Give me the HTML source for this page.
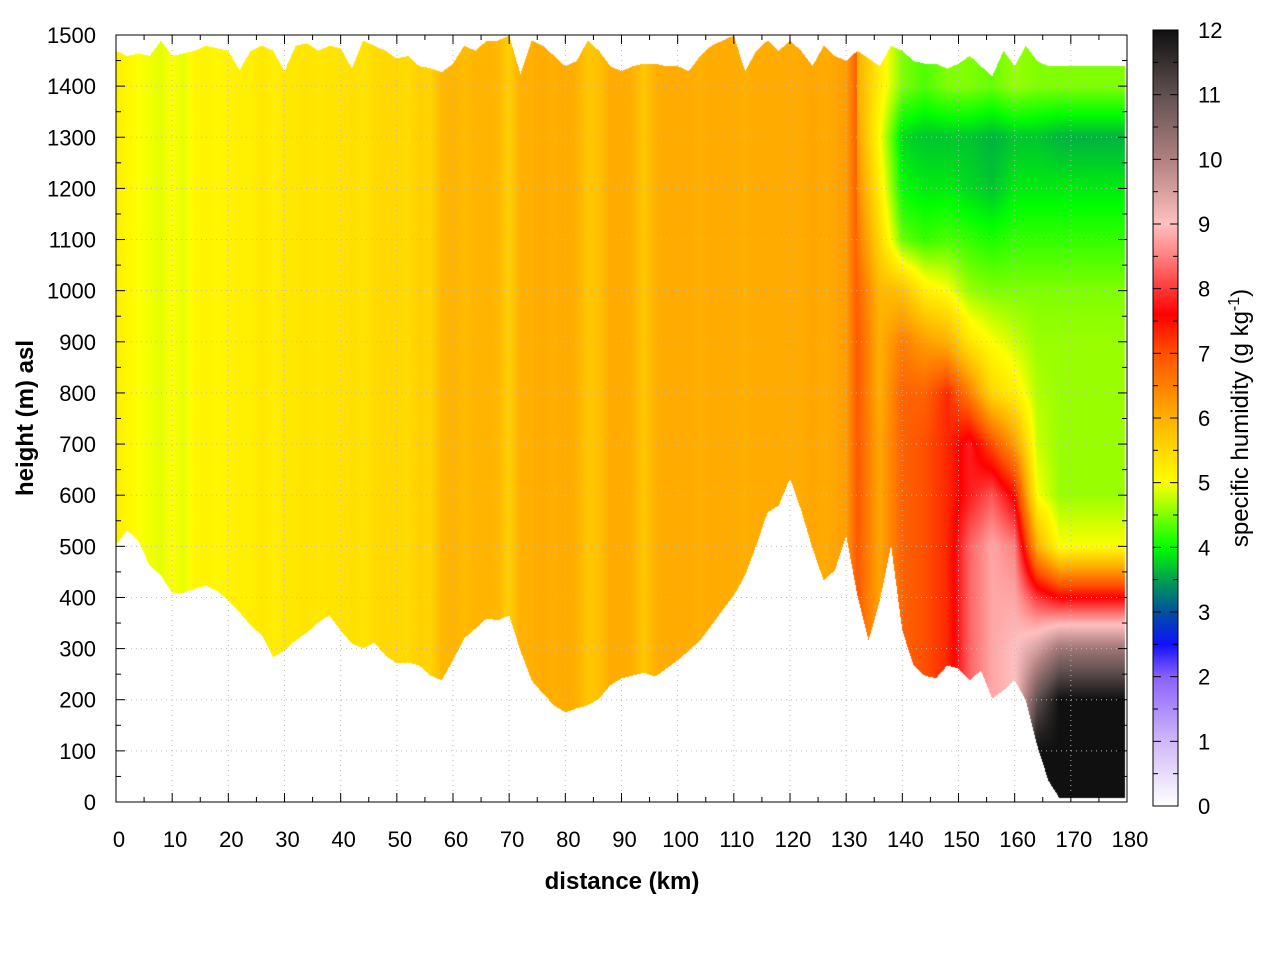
<!DOCTYPE html>
<html><head><meta charset="utf-8">
<style>
html,body{margin:0;padding:0;background:#fff;width:1280px;height:960px;overflow:hidden}
#wrap{position:relative;width:1280px;height:960px}
canvas{position:absolute;left:0;top:0}
svg{position:absolute;left:0;top:0}
text{font-family:"Liberation Sans",sans-serif;fill:#000}
</style></head><body>
<div id="wrap">
<canvas id="cv" width="1280" height="960"></canvas>
<svg id="sv" width="1280" height="960"></svg>
</div>
<script>
// ---- data ----
const colDist = [0,2,4,6,8,10,12,14,16,18,20,22,24,26,28,30,32,34,36,38,40,42,44,46,48,50,52,54,56,58,60,62,64,66,68,70,72,74,76,78,80,82,84,86,88,90,92,94,96,98,100,102,104,106,108,110,112,114,116,118,120,122,124,126,128,130,132,134,136,138,140,142,144,146,148,150,152,154,156,158,160,162,164,166,168,170,172,174,176,178,180];
const terrain = [503,532,512,463,444,410,410,418,424,414,395,372,346,327,284,297,317,332,352,366,336,311,301,313,287,272,274,268,248,239,278,321,340,360,356,366,297,239,213,190,176,184,190,203,229,243,248,254,246,262,278,297,317,346,376,405,444,503,567,581,634,571,497,434,454,522,405,317,395,503,336,268,248,243,268,262,239,258,203,219,239,200,112,43,8,8,8,8,8,8,8];
const topH = [1470,1460,1465,1460,1490,1460,1465,1470,1480,1475,1470,1432,1470,1480,1470,1430,1480,1485,1470,1480,1475,1435,1490,1480,1470,1455,1460,1440,1436,1428,1445,1480,1470,1490,1490,1500,1425,1490,1480,1460,1440,1450,1490,1470,1440,1430,1440,1445,1445,1440,1440,1430,1460,1480,1490,1500,1430,1470,1490,1470,1490,1470,1440,1480,1460,1450,1470,1455,1440,1480,1470,1450,1445,1445,1435,1445,1460,1440,1420,1470,1440,1480,1450,1440,1440,1440,1440,1440,1440,1440,1440];
// column-uniform humidity for 0..132 km (g/kg)
const qCol = [5.2,5.1,5.0,4.95,4.9,5.0,4.9,5.1,5.15,5.1,5.15,5.2,5.2,5.3,5.2,5.3,5.3,5.35,5.3,5.35,5.35,5.4,5.35,5.45,5.5,5.5,5.45,5.6,5.55,5.9,5.95,5.85,5.95,5.95,5.9,5.6,6.0,6.0,6.05,6.0,6.05,6.0,5.7,5.8,6.05,6.05,6.0,5.7,6.0,6.05,6.05,6.05,6.0,6.05,6.05,6.05,6.0,6.05,6.05,6.05,6.05,6.05,6.1,6.05,6.1,6.2,6.9];
// grid region beyond 132 km: columns (km) x rows (height m)
const gridDist = [132,136,140,144,148,152,156,160,164,168,172,176,180];
const gridHeights = [0,100,200,300,400,500,600,700,800,900,1000,1100,1200,1300,1400];
const gridQ = [
 [6.9,6.9,6.9,6.9,6.9,6.9,6.9,6.9,6.9,6.9,6.8,6.6,6.4,6.2,6.0],
 [6.1,6.1,6.1,6.1,6.1,6.1,6.1,6.1,6.0,6.0,5.9,5.5,5.2,5.0,5.2],
 [6.8,6.8,6.8,6.8,6.8,6.8,6.8,6.8,6.8,6.5,5.8,4.4,4.0,3.8,4.5],
 [7.0,7.0,7.0,7.0,7.0,7.0,7.0,7.0,6.8,6.2,5.2,4.2,3.9,3.7,4.3],
 [7.3,7.3,7.3,7.3,7.3,7.3,7.3,7.3,7.3,6.0,5.0,4.3,3.9,3.7,4.5],
 [8.3,8.3,8.3,8.3,8.3,8.3,7.8,7.8,6.5,5.3,4.6,4.2,3.8,3.7,4.5],
 [8.8,8.8,8.8,8.8,8.8,8.8,8.2,7.0,5.5,5.0,4.5,4.1,3.7,3.6,4.4],
 [9.0,9.0,9.0,9.0,8.8,8.5,7.5,6.2,5.2,4.8,4.5,4.2,3.9,3.7,4.6],
 [12,12,11,9.5,8.0,6.0,5.0,4.8,4.7,4.6,4.5,4.2,3.9,3.7,4.5],
 [12,12,12,10.2,7.6,5.0,4.6,4.6,4.6,4.6,4.5,4.2,3.9,3.6,4.5],
 [12,12,12,10.2,7.6,5.0,4.6,4.6,4.6,4.6,4.5,4.2,3.9,3.6,4.5],
 [12,12,12,10.2,7.6,5.0,4.6,4.6,4.6,4.6,4.5,4.2,3.9,3.6,4.5],
 [12,12,12,10.2,7.6,5.0,4.6,4.6,4.6,4.6,4.5,4.2,3.9,3.6,4.5]
];
const xTicks = [0,10,20,30,40,50,60,70,80,90,100,110,120,130,140,150,160,170,180];
const yTicks = [0,100,200,300,400,500,600,700,800,900,1000,1100,1200,1300,1400,1500];
const cbTicks = [0,1,2,3,4,5,6,7,8,9,10,11,12];
const cmapVals = [0,1,2,2.5,3,3.5,4,4.5,5,5.5,6,7,7.6,8.5,9,10,11,12];
const cmapCols = ['#ffffff','#d0b8f8','#8a60ff','#1010ff','#0050a0','#00a050','#00ff00','#80ff00','#ffff00','#ffd800','#ffb000','#ff5000','#ff0000','#ff8080','#ffc0c0','#b08080','#605050','#101010'];

// ---- geometry ----
const PX0=116,PX1=1127,PY0=802,PY1=35;
const xs=d=>PX0+(d/180)*(PX1-PX0);
const ys=h=>PY0-(h/1500)*(PY0-PY1);
const xinv=px=>(px-PX0)/(PX1-PX0)*180;
const yinv=py=>(PY0-py)/(PY0-PY1)*1500;
function hex(c){return [parseInt(c.substr(1,2),16),parseInt(c.substr(3,2),16),parseInt(c.substr(5,2),16)];}
const cmapRGB=cmapCols.map(hex);
function cmap(q){
  if(q<=cmapVals[0])return cmapRGB[0];
  for(let i=1;i<cmapVals.length;i++){
    if(q<=cmapVals[i]){const t=(q-cmapVals[i-1])/(cmapVals[i]-cmapVals[i-1]);const a=cmapRGB[i-1],b=cmapRGB[i];return [a[0]+(b[0]-a[0])*t,a[1]+(b[1]-a[1])*t,a[2]+(b[2]-a[2])*t];}
  }
  return cmapRGB[cmapRGB.length-1];
}
function interp1(xsArr,vals,x){
  if(x<=xsArr[0])return vals[0];
  for(let i=1;i<xsArr.length;i++){if(x<=xsArr[i]){const t=(x-xsArr[i-1])/(xsArr[i]-xsArr[i-1]);return vals[i-1]+(vals[i]-vals[i-1])*t;}}
  return vals[vals.length-1];
}
function gridAt(d,h){
  let i=0;while(i<gridDist.length-2&&d>gridDist[i+1])i++;
  const t=Math.max(0,Math.min(1,(d-gridDist[i])/(gridDist[i+1]-gridDist[i])));
  const a=interp1(gridHeights,gridQ[i],h),b=interp1(gridHeights,gridQ[i+1],h);
  return a+(b-a)*t;
}
function qAt(d,h){
  if(d<=132)return interp1(colDist.slice(0,qCol.length),qCol,d);
  return gridAt(d,h);
}
// ---- heatmap ----
const cv=document.getElementById('cv');const ctx=cv.getContext('2d');
const img=ctx.createImageData(1280,960);
const xEnd=xs(179.6);
for(let px=PX0;px<xEnd;px++){
  const d=xinv(px+0.5);
  const tb=interp1(colDist,terrain,d),tt=interp1(colDist,topH,d);
  const yb=ys(tb),yt=ys(tt);
  for(let py=Math.ceil(yt);py<yb&&py<PY0;py++){
    const c=cmap(qAt(d,yinv(py+0.5)));
    const k=(py*1280+px)*4;img.data[k]=c[0];img.data[k+1]=c[1];img.data[k+2]=c[2];img.data[k+3]=255;
  }
}
ctx.putImageData(img,0,0);

// ---- axes svg ----
const NS='http://www.w3.org/2000/svg';const sv=document.getElementById('sv');
function mk(tag,at,parent){const e=document.createElementNS(NS,tag);for(const k in at)e.setAttribute(k,at[k]);(parent||sv).appendChild(e);return e;}
for(const t of xTicks){const g=mk('line',{x1:xs(t),x2:xs(t),y1:PY1,y2:PY0,stroke:'#bbb','stroke-width':1,'stroke-dasharray':'1,4'});

}
for(const t of yTicks){const g=mk('line',{x1:PX0,x2:PX1,y1:ys(t),y2:ys(t),stroke:'#bbb','stroke-width':1,'stroke-dasharray':'1,4'});

}
const fr=mk('rect',{x:PX0,y:PY1,width:PX1-PX0,height:PY0-PY1,fill:'none',stroke:'#000','stroke-width':1});


for(let v=0;v<=180;v+=5){const L=(v%10===0)?9:5;
mk('line',{x1:xs(v),x2:xs(v),y1:PY0,y2:PY0-L,stroke:'#000'});mk('line',{x1:xs(v),x2:xs(v),y1:PY1,y2:PY1+L,stroke:'#000'});}
for(const t of xTicks){const e=mk('text',{x:xs(t)+3,y:847,'text-anchor':'middle','font-size':22});e.textContent=t;

}
for(let v=0;v<=1500;v+=50){const L=(v%100===0)?9:5;
mk('line',{x1:PX0,x2:PX0+L,y1:ys(v),y2:ys(v),stroke:'#000'});mk('line',{x1:PX1,x2:PX1-L,y1:ys(v),y2:ys(v),stroke:'#000'});}
for(const t of yTicks){const e=mk('text',{x:96,y:ys(t)+8,'text-anchor':'end','font-size':22});e.textContent=t;

}
const xt=mk('text',{x:622,y:889,'text-anchor':'middle','font-size':24,'font-weight':'bold'});xt.textContent='distance (km)';


const yt=mk('text',{x:0,y:0,'text-anchor':'middle','font-size':24,'font-weight':'bold',transform:'translate(33,418) rotate(-90)'});yt.textContent='height (m) asl';


const CB0=1153,CB1=1178,CBT=30,CBB=806;
const cys=v=>CBB-(v/12)*(CBB-CBT);
const defs=mk('defs',{});const lg=mk('linearGradient',{id:'cbg',x1:0,y1:1,x2:0,y2:0},defs);
for(let i=0;i<cmapVals.length;i++)mk('stop',{offset:cmapVals[i]/12,'stop-color':cmapCols[i]},lg);
const cb=mk('rect',{x:CB0,y:CBT,width:CB1-CB0,height:CBB-CBT,fill:'url(#cbg)',stroke:'#000','stroke-width':1});


for(let v=0;v<=12;v+=0.5){const L=(v%1===0)?8:5;
mk('line',{x1:CB0,x2:CB0+L,y1:cys(v),y2:cys(v),stroke:'#000'});mk('line',{x1:CB1,x2:CB1-L,y1:cys(v),y2:cys(v),stroke:'#000'});}
for(const t of cbTicks){const e=mk('text',{x:1198,y:cys(t)+8,'font-size':22});e.textContent=t;

}
const ct=mk('text',{x:0,y:0,'text-anchor':'middle','font-size':24,transform:'translate(1248,418) rotate(-90)'});


ct.appendChild(document.createTextNode('specific humidity (g kg'));
const sup=mk('tspan',{dy:-9,'font-size':16},ct);sup.textContent='-1';
const cl=mk('tspan',{dy:9},ct);cl.textContent=')';
</script>
</body></html>
